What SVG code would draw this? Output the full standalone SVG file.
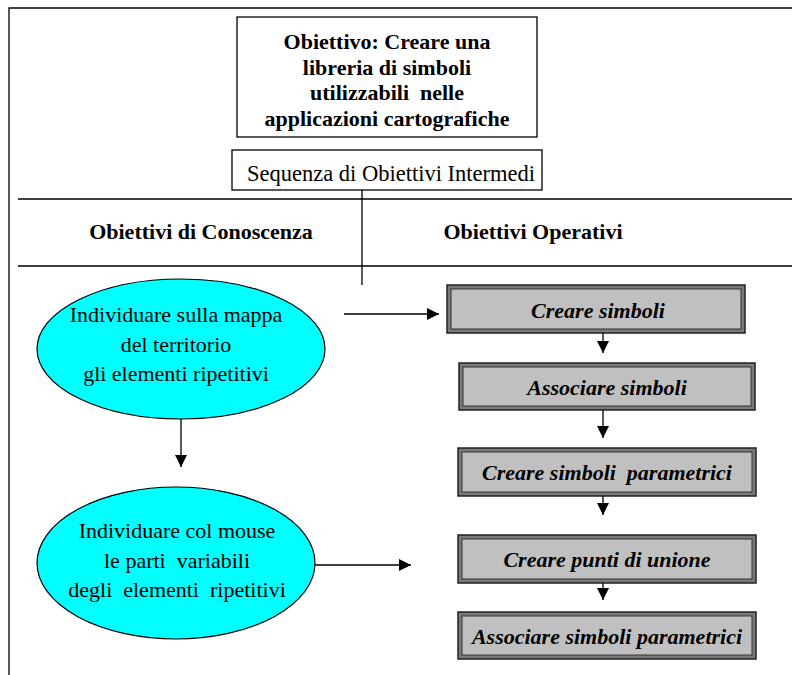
<svg xmlns="http://www.w3.org/2000/svg" width="792" height="675" viewBox="0 0 792 675">
<style>
.t{font-family:"Liberation Serif","Times New Roman",serif;fill:#000;text-anchor:middle;white-space:pre}
.b{font-weight:bold}
.bi{font-weight:bold;font-style:italic}
.ln{stroke:#000;stroke-width:1.3;fill:none}
.ell{fill:#00ffff;stroke:#000;stroke-width:1.2}
.outer{fill:#7a7a7a;stroke:#222;stroke-width:1.5}
.inner{fill:#c0c0c0;stroke:#333;stroke-width:1}
</style>
<defs>
<marker id="ah" viewBox="0 0 10 10" refX="10" refY="5" markerWidth="12" markerHeight="12" markerUnits="userSpaceOnUse" orient="auto">
<path d="M0,0 L10,5 L0,10 Z" fill="#000"/>
</marker>
</defs>
<rect width="792" height="675" fill="#fff"/>
<g id="frame">
<path class="ln" d="M9,675 V8 H792"/>
<path class="ln" d="M18,199 H792 M18,266 H792"/>
</g>
<g id="goal">
<rect x="237" y="17" width="300" height="120" fill="#fff" stroke="#000" stroke-width="1.3"/>
<text class="t b" font-size="22" x="387" y="49">Obiettivo: Creare una</text>
<text class="t b" font-size="22" x="387" y="75">libreria di simboli</text>
<text class="t b" font-size="22" x="387" y="100" xml:space="preserve">utilizzabili  nelle</text>
<text class="t b" font-size="22" x="387" y="126">applicazioni cartografiche</text>
</g>
<g id="sequenza">
<rect x="232" y="150" width="310" height="40" fill="#fff" stroke="#000" stroke-width="1.3"/>
<text class="t" font-size="22.5" x="391" y="181">Sequenza di Obiettivi Intermedi</text>
</g>
<g id="hdr-conoscenza">
<text class="t b" font-size="22" x="201" y="239">Obiettivi di Conoscenza</text>
</g>
<g id="hdr-operativi">
<text class="t b" font-size="22" x="533" y="239">Obiettivi Operativi</text>
</g>
<g id="ellipse1">
<ellipse class="ell" cx="181" cy="349" rx="144" ry="70"/>
<text class="t" font-size="22" x="176" y="322">Individuare sulla mappa</text>
<text class="t" font-size="22" x="176" y="352">del territorio</text>
<text class="t" font-size="22" x="176" y="381">gli elementi ripetitivi</text>
</g>
<g id="ellipse2">
<ellipse class="ell" cx="176" cy="563" rx="139" ry="76"/>
<text class="t" font-size="22" x="177" y="538">Individuare col mouse</text>
<text class="t" font-size="22" x="177" y="568" xml:space="preserve">le parti  variabili</text>
<text class="t" font-size="22" x="177" y="597" xml:space="preserve">degli  elementi  ripetitivi</text>
</g>
<g id="box1">
<rect class="outer" x="447" y="285" width="298" height="48"/>
<rect class="inner" x="451" y="289" width="290" height="40"/>
<text class="t bi" font-size="22" x="598" y="318">Creare simboli</text>
</g>
<g id="box2">
<rect class="outer" x="459" y="363" width="296" height="47"/>
<rect class="inner" x="463" y="367" width="288" height="39"/>
<text class="t bi" font-size="22" x="607" y="395">Associare simboli</text>
</g>
<g id="box3">
<rect class="outer" x="458" y="448" width="298" height="48"/>
<rect class="inner" x="462" y="452" width="290" height="40"/>
<text class="t bi" font-size="22" x="607" y="480" xml:space="preserve">Creare simboli  parametrici</text>
</g>
<g id="box4">
<rect class="outer" x="458" y="535" width="298" height="48"/>
<rect class="inner" x="462" y="539" width="290" height="40"/>
<text class="t bi" font-size="22" x="607" y="567">Creare punti di unione</text>
</g>
<g id="box5">
<rect class="outer" x="458" y="612" width="298" height="47"/>
<rect class="inner" x="462" y="616" width="290" height="39"/>
<text class="t bi" font-size="22" x="607" y="644">Associare simboli parametrici</text>
</g>
<g id="connectors">
<path class="ln" d="M362,190 V285"/>
<path class="ln" d="M344,314 H439" marker-end="url(#ah)"/>
<path class="ln" d="M181,419 V467" marker-end="url(#ah)"/>
<path class="ln" d="M315,565 H411" marker-end="url(#ah)"/>
<path class="ln" d="M603,333 V353" marker-end="url(#ah)"/>
<path class="ln" d="M603,410 V438" marker-end="url(#ah)"/>
<path class="ln" d="M603,496 V515" marker-end="url(#ah)"/>
<path class="ln" d="M603,583 V600" marker-end="url(#ah)"/>
</g>
</svg>
